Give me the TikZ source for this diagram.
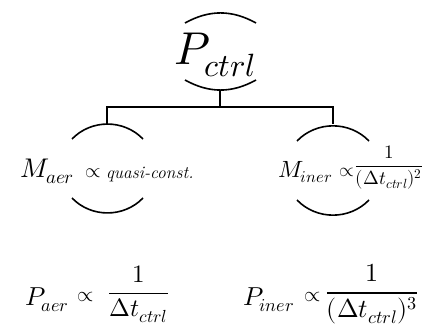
\documentclass[tikz,border=0pt]{standalone}
\usepackage{amsmath}
\usepackage{unicode-math}
\setmathfont{Latin Modern Math}
\begin{document}
\begin{tikzpicture}[x=1pt,y=-1pt,
  arcline/.style={line width=1.6pt},
  conn/.style={line width=1.1pt},
  lbl/.style={inner sep=0pt, outer sep=0pt}]
\useasboundingbox (0,0) rectangle (422,326);
% top node
\node[lbl, anchor=base, font=\fontsize{46}{50}\selectfont] (pctrl) at (215,65) {$P_{ctrl}$};
\draw[arcline] (185,23) to[bend left=29] (256,23);
\draw[arcline] (185,80) to[bend right=29] (256,80);
% left child
\node[lbl, anchor=base west, font=\fontsize{27}{30}\selectfont] (maer) at (20,177) {$M_{aer}$};
\node[lbl, anchor=base, font=\fontsize{20}{22}\selectfont] (pa1) at (93,177) {$\propto$};
\node[lbl, anchor=base west, font=\fontsize{17.5}{19}\selectfont\itshape] (qc) at (106,178) {quasi-const.};
\draw[arcline] (72,139) to[bend left=46] (143,139);
\draw[arcline] (72,198) to[bend right=46] (143,198);
% right child
\node[lbl, anchor=base west, font=\fontsize{23.5}{27}\selectfont] (miner) at (278,177) {$M_{iner}$};
\node[lbl, anchor=base, font=\fontsize{19}{21}\selectfont] (pa2) at (347,176) {$\propto$};
\node[lbl, anchor=base, font=\fontsize{19}{22}\selectfont] (fm) at (389,171) {$\displaystyle\frac{1}{(\Delta t_{ctrl})^2}$};
\draw[arcline] (297,141) to[bend left=46] (369,141);
\draw[arcline] (297,200) to[bend right=46] (369,200);
% connectors
\coordinate (pcb) at (220,90);
\coordinate (jn) at (220,107);
\coordinate (lt) at (107,124);
\coordinate (rt) at (333,124);
\draw[conn] (pcb) -- (jn);
\draw[conn] (lt) |- (jn) -| (rt);
% bottom row
\node[lbl, anchor=base west, font=\fontsize{26}{30}\selectfont] (paer) at (25,305) {$P_{aer}$};
\node[lbl, anchor=base, font=\fontsize{21}{23}\selectfont] (pa3) at (86,301) {$\propto$};
\node[lbl, anchor=base, font=\fontsize{25}{28}\selectfont] (fa) at (138.5,299.5) {$\displaystyle\frac{1}{\Delta t_{ctrl}}$};
\node[lbl, anchor=base west, font=\fontsize{26}{30}\selectfont] (piner) at (243,305) {$P_{iner}$};
\node[lbl, anchor=base, font=\fontsize{21}{23}\selectfont] (pa4) at (313,301) {$\propto$};
\node[lbl, anchor=base, font=\fontsize{26}{29}\selectfont] (fi) at (372,299.5) {$\displaystyle\frac{1}{(\Delta t_{ctrl})^3}$};
\end{tikzpicture}
\end{document}
